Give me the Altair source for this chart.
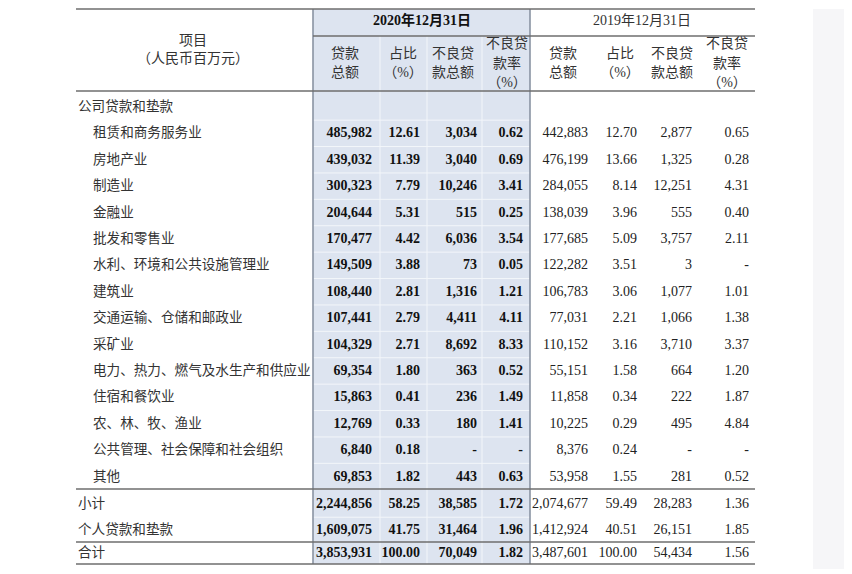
import altair as alt
import pandas as pd

# ---------------- data ----------------
labels = ["公司贷款和垫款", "租赁和商务服务业", "房地产业", "制造业", "金融业", "批发和零售业",
          "水利、环境和公共设施管理业", "建筑业", "交通运输、仓储和邮政业", "采矿业",
          "电力、热力、燃气及水生产和供应业", "住宿和餐饮业", "农、林、牧、渔业",
          "公共管理、社会保障和社会组织", "其他", "小计", "个人贷款和垫款", "合计"]
section_rows = [0, 15, 16, 17]

loan_2020 = [None, 485982, 439032, 300323, 204644, 170477, 149509, 108440, 107441, 104329,
             69354, 15863, 12769, 6840, 69853, 2244856, 1609075, 3853931]
share_2020 = [None, 12.61, 11.39, 7.79, 5.31, 4.42, 3.88, 2.81, 2.79, 2.71, 1.80, 0.41, 0.33,
              0.18, 1.82, 58.25, 41.75, 100.00]
npl_2020 = [None, 3034, 3040, 10246, 515, 6036, 73, 1316, 4411, 8692, 363, 236, 180, None,
            443, 38585, 31464, 70049]
rate_2020 = [None, 0.62, 0.69, 3.41, 0.25, 3.54, 0.05, 1.21, 4.11, 8.33, 0.52, 1.49, 1.41,
             None, 0.63, 1.72, 1.96, 1.82]

loan_2019 = [None, 442883, 476199, 284055, 138039, 177685, 122282, 106783, 77031, 110152,
             55151, 11858, 10225, 8376, 53958, 2074677, 1412924, 3487601]
share_2019 = [None, 12.70, 13.66, 8.14, 3.96, 5.09, 3.51, 3.06, 2.21, 3.16, 1.58, 0.34, 0.29,
              0.24, 1.55, 59.49, 40.51, 100.00]
npl_2019 = [None, 2877, 1325, 12251, 555, 3757, 3, 1077, 1066, 3710, 664, 222, 495, None,
            281, 28283, 26151, 54434]
rate_2019 = [None, 0.65, 0.28, 4.31, 0.40, 2.11, None, 1.01, 1.38, 3.37, 1.20, 1.87, 4.84,
             None, 0.52, 1.36, 1.85, 1.56]

year_headers = ["2020年12月31日", "2019年12月31日"]
col_headers = [["贷款", "总额"], ["占比", "（%）"], ["不良贷", "款总额"], ["不良贷", "款率", "（%）"]]
item_header = ["项目", "（人民币百万元）"]

# ---------------- layout (table geometry) ----------------
W, H = 836, 560
row_pos = list(range(15)) + [15.05, 16.03, 16.9]
TOP, YEAR_LINE, HEAD_LINE, BOTTOM = -3.71, -2.69, -0.604, 17.31
LEFT, RIGHT = 68, 747
SHADE_L, SHADE_R = 305, 522
label_x_section, label_x_item = 70, 85
right_2020 = [364, 412, 469, 515]
right_2019 = [580, 629, 684, 741]
center_2020 = [337, 395, 445, 499]
center_2019 = [555, 612, 664, 719]
year_center = [414, 634]
item_center = 185
inner_v = [372, 419, 474]

xs = alt.Scale(domain=[0, W], nice=False, zero=False)
ys = alt.Scale(domain=[TOP, TOP + H / 26.4], nice=False, zero=False, reverse=True)

SERIF = "Liberation Serif, Noto Sans CJK SC"
CJK = "Noto Sans CJK SC"


def fmt_int(v):
    return "-" if v is None else f"{v:,}"


def fmt_pct(v):
    return "-" if v is None else f"{v:.2f}"


def enc_pt(df):
    return dict(x=alt.X("x:Q", scale=xs, axis=None),
                y=alt.Y("y:Q", scale=ys, axis=None),
                text=alt.Text("text:N"))


def text_layer(df, **kw):
    return alt.Chart(df).mark_text(baseline="middle", **kw).encode(**enc_pt(df))


# ---------- background pieces ----------
bg = pd.DataFrame([{"x": 805, "x2": W, "y": TOP, "y2": TOP + H / 26.4}])
page_edge = alt.Chart(bg).mark_rect(color="#f6f6f8").encode(
    x=alt.X("x:Q", scale=xs, axis=None), x2="x2:Q",
    y=alt.Y("y:Q", scale=ys, axis=None), y2="y2:Q")

shade_df = pd.DataFrame([{"x": SHADE_L, "x2": SHADE_R, "y": TOP, "y2": BOTTOM}])
shade = alt.Chart(shade_df).mark_rect(color="#dde4f0").encode(
    x=alt.X("x:Q", scale=xs, axis=None), x2="x2:Q",
    y=alt.Y("y:Q", scale=ys, axis=None), y2="y2:Q")

# white inner grid inside shaded block
wh = [{"x": SHADE_L, "x2": SHADE_R, "y": r + 0.5} for r in range(14)]
wh.append({"x": SHADE_L, "x2": SHADE_R, "y": 15.54})
white_h = alt.Chart(pd.DataFrame(wh)).mark_rule(color="#f3f6fa", strokeWidth=1).encode(
    x=alt.X("x:Q", scale=xs, axis=None), x2="x2:Q", y=alt.Y("y:Q", scale=ys, axis=None))
wv = [{"x": v, "y": YEAR_LINE, "y2": BOTTOM} for v in inner_v]
white_v = alt.Chart(pd.DataFrame(wv)).mark_rule(color="#f3f6fa", strokeWidth=1).encode(
    x=alt.X("x:Q", scale=xs, axis=None), y=alt.Y("y:Q", scale=ys, axis=None), y2="y2:Q")

border_df = pd.DataFrame([{"x": SHADE_L, "y": TOP, "y2": BOTTOM},
                          {"x": SHADE_R, "y": TOP, "y2": BOTTOM}])
borders = alt.Chart(border_df).mark_rule(color="#8a93a3", strokeWidth=1.6).encode(
    x=alt.X("x:Q", scale=xs, axis=None), y=alt.Y("y:Q", scale=ys, axis=None), y2="y2:Q")

hl = [{"x": LEFT, "x2": RIGHT, "y": TOP},
      {"x": SHADE_L, "x2": RIGHT, "y": YEAR_LINE},
      {"x": LEFT, "x2": RIGHT, "y": HEAD_LINE},
      {"x": LEFT, "x2": RIGHT, "y": 14.47},
      {"x": LEFT, "x2": RIGHT, "y": 16.48},
      {"x": LEFT, "x2": RIGHT, "y": BOTTOM}]
hlines = alt.Chart(pd.DataFrame(hl)).mark_rule(color="#6e6e6e", strokeWidth=1.4).encode(
    x=alt.X("x:Q", scale=xs, axis=None), x2="x2:Q", y=alt.Y("y:Q", scale=ys, axis=None))

# ---------- texts ----------
lab_rows = []
for i, lab in enumerate(labels):
    lab_rows.append({"x": label_x_section if i in section_rows else label_x_item,
                     "y": row_pos[i], "text": lab})
label_layer = text_layer(pd.DataFrame(lab_rows), align="left", font=CJK, fontSize=13.6,
                         color="#333333")

# header: item
head_c = [{"x": item_center, "y": -2.5, "text": item_header[0]},
          {"x": item_center, "y": -1.82, "text": item_header[1]}]
line_y = {2: [-2.0, -1.29], 3: [-2.39, -1.63, -0.91]}
for centers in (center_2020, center_2019):
    for c, lines in zip(centers, col_headers):
        for ly, t in zip(line_y[len(lines)], lines):
            head_c.append({"x": c, "y": ly, "text": t})
header_layer = text_layer(pd.DataFrame(head_c), align="center", font=SERIF, fontSize=14,
                          color="#333333")

year20 = text_layer(pd.DataFrame([{"x": year_center[0], "y": -3.26, "text": year_headers[0]}]),
                    align="center", font=SERIF, fontSize=14, fontWeight="bold", color="#111111")
year19 = text_layer(pd.DataFrame([{"x": year_center[1], "y": -3.26, "text": year_headers[1]}]),
                    align="center", font=SERIF, fontSize=14, color="#333333")


def num_rows(cols, rights):
    out = []
    for i in range(1, len(labels)):
        for series, fmt, rx in zip(cols, (fmt_int, fmt_pct, fmt_int, fmt_pct), rights):
            out.append({"x": rx, "y": row_pos[i], "text": fmt(series[i])})
    return pd.DataFrame(out)


nums20 = text_layer(num_rows([loan_2020, share_2020, npl_2020, rate_2020], right_2020),
                    align="right", font=SERIF, fontSize=14, fontWeight="bold", color="#111111")
nums19 = text_layer(num_rows([loan_2019, share_2019, npl_2019, rate_2019], right_2019),
                    align="right", font=SERIF, fontSize=14, color="#222222")

chart = alt.layer(page_edge, shade, white_h, white_v, borders, hlines,
                  label_layer, header_layer, year20, year19, nums20, nums19).properties(
    width=W, height=H, padding=0, background="white"
).configure_view(stroke=None)

chart.save("out.html", embed_options={"renderer": "svg", "actions": False})
